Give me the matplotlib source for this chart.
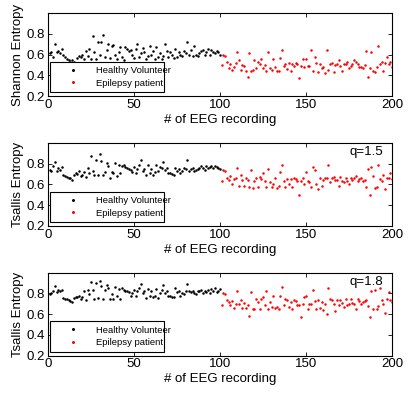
import matplotlib
matplotlib.use("Agg")
import matplotlib.pyplot as plt
import numpy as np

plt.rcParams['font.family'] = ['Liberation Sans', 'DejaVu Sans']

# Shannon entropy
shannon_healthy = [
    0.61, 0.62, 0.58, 0.70, 0.62, 0.63, 0.61, 0.65, 0.60, 0.58,
    0.56, 0.55, 0.53, 0.55, 0.53, 0.51, 0.57, 0.59, 0.58, 0.60,
    0.56, 0.63, 0.59, 0.65, 0.56, 0.78, 0.62, 0.56, 0.72, 0.60,
    0.72, 0.79, 0.58, 0.64, 0.70, 0.57, 0.68, 0.69, 0.60, 0.56,
    0.62, 0.67, 0.58, 0.55, 0.67, 0.65, 0.63, 0.64, 0.60, 0.57,
    0.65, 0.70, 0.58, 0.61, 0.66, 0.62, 0.56, 0.59, 0.68, 0.60,
    0.63, 0.56, 0.67, 0.58, 0.61, 0.56, 0.59, 0.70, 0.63, 0.58,
    0.62, 0.60, 0.57, 0.65, 0.58, 0.62, 0.60, 0.59, 0.63, 0.61,
    0.72, 0.60, 0.64, 0.59, 0.68, 0.60, 0.59, 0.61, 0.63, 0.64,
    0.60, 0.62, 0.65, 0.60, 0.64, 0.62, 0.61, 0.63, 0.62, 0.60]
shannon_epilepsy = [
    0.50, 0.60, 0.59, 0.53, 0.47, 0.51, 0.45, 0.48, 0.52, 0.62,
    0.55, 0.45, 0.50, 0.49, 0.44, 0.38, 0.61, 0.44, 0.45, 0.55,
    0.47, 0.53, 0.51, 0.56, 0.47, 0.50, 0.44, 0.62, 0.47, 0.45,
    0.56, 0.48, 0.44, 0.44, 0.57, 0.64, 0.49, 0.51, 0.46, 0.52,
    0.44, 0.51, 0.49, 0.52, 0.51, 0.37, 0.49, 0.56, 0.48, 0.56,
    0.49, 0.49, 0.64, 0.44, 0.58, 0.52, 0.43, 0.51, 0.47, 0.48,
    0.42, 0.64, 0.45, 0.51, 0.52, 0.43, 0.50, 0.51, 0.55, 0.49,
    0.44, 0.51, 0.51, 0.53, 0.47, 0.49, 0.51, 0.55, 0.53, 0.51,
    0.48, 0.48, 0.47, 0.50, 0.63, 0.38, 0.47, 0.62, 0.44, 0.43,
    0.48, 0.68, 0.51, 0.53, 0.44, 0.52, 0.58, 0.51, 0.53, 0.48]

# Tsallis entropy q=1.5
tsallis15_healthy = [
    0.74, 0.73, 0.78, 0.82, 0.73, 0.76, 0.74, 0.77, 0.69, 0.68,
    0.67, 0.66, 0.66, 0.64, 0.69, 0.71, 0.70, 0.73, 0.68, 0.69,
    0.72, 0.67, 0.76, 0.71, 0.87, 0.73, 0.69, 0.84, 0.69, 0.89,
    0.83, 0.69, 0.72, 0.81, 0.78, 0.66, 0.72, 0.71, 0.81, 0.68,
    0.79, 0.71, 0.78, 0.79, 0.77, 0.76, 0.75, 0.74, 0.72, 0.77,
    0.71, 0.75, 0.79, 0.84, 0.73, 0.75, 0.69, 0.79, 0.71, 0.75,
    0.69, 0.72, 0.79, 0.73, 0.77, 0.76, 0.82, 0.74, 0.76, 0.71,
    0.71, 0.70, 0.69, 0.76, 0.73, 0.75, 0.71, 0.73, 0.76, 0.75,
    0.84, 0.73, 0.75, 0.76, 0.73, 0.74, 0.75, 0.76, 0.78, 0.76,
    0.74, 0.78, 0.76, 0.77, 0.78, 0.76, 0.78, 0.77, 0.76, 0.75]
tsallis15_epilepsy = [
    0.63, 0.74, 0.73, 0.66, 0.64, 0.68, 0.60, 0.65, 0.66, 0.76,
    0.59, 0.69, 0.64, 0.59, 0.66, 0.64, 0.58, 0.74, 0.57, 0.63,
    0.66, 0.58, 0.67, 0.65, 0.71, 0.63, 0.58, 0.75, 0.62, 0.58,
    0.60, 0.66, 0.57, 0.59, 0.72, 0.79, 0.63, 0.58, 0.65, 0.60,
    0.65, 0.58, 0.66, 0.65, 0.63, 0.50, 0.63, 0.66, 0.60, 0.72,
    0.63, 0.62, 0.58, 0.77, 0.74, 0.60, 0.56, 0.66, 0.59, 0.64,
    0.66, 0.66, 0.79, 0.62, 0.66, 0.67, 0.64, 0.64, 0.59, 0.67,
    0.63, 0.62, 0.66, 0.63, 0.60, 0.66, 0.64, 0.66, 0.68, 0.63,
    0.65, 0.66, 0.63, 0.64, 0.58, 0.75, 0.50, 0.77, 0.68, 0.57,
    0.58, 0.79, 0.65, 0.63, 0.69, 0.56, 0.66, 0.66, 0.71, 0.65]

# Tsallis entropy q=1.8
tsallis18_healthy = [
    0.79, 0.80, 0.82, 0.87, 0.81, 0.83, 0.82, 0.83, 0.76, 0.75,
    0.75, 0.74, 0.73, 0.72, 0.76, 0.77, 0.77, 0.78, 0.75, 0.77,
    0.82, 0.74, 0.83, 0.79, 0.91, 0.83, 0.75, 0.90, 0.76, 0.92,
    0.87, 0.75, 0.83, 0.88, 0.85, 0.75, 0.79, 0.75, 0.86, 0.78,
    0.84, 0.75, 0.85, 0.83, 0.82, 0.82, 0.81, 0.78, 0.80, 0.83,
    0.78, 0.82, 0.85, 0.89, 0.80, 0.82, 0.76, 0.84, 0.78, 0.82,
    0.77, 0.78, 0.84, 0.76, 0.80, 0.83, 0.88, 0.80, 0.82, 0.78,
    0.78, 0.77, 0.77, 0.85, 0.81, 0.82, 0.78, 0.80, 0.79, 0.82,
    0.89, 0.82, 0.81, 0.82, 0.80, 0.79, 0.82, 0.82, 0.83, 0.80,
    0.82, 0.81, 0.83, 0.80, 0.84, 0.82, 0.85, 0.81, 0.82, 0.84]
tsallis18_epilepsy = [
    0.69, 0.80, 0.79, 0.74, 0.72, 0.69, 0.73, 0.66, 0.70, 0.82,
    0.70, 0.74, 0.66, 0.71, 0.66, 0.69, 0.58, 0.81, 0.65, 0.65,
    0.75, 0.72, 0.65, 0.75, 0.77, 0.69, 0.82, 0.65, 0.72, 0.67,
    0.78, 0.66, 0.67, 0.65, 0.78, 0.86, 0.69, 0.75, 0.74, 0.67,
    0.72, 0.65, 0.74, 0.73, 0.69, 0.69, 0.57, 0.70, 0.77, 0.78,
    0.65, 0.70, 0.70, 0.83, 0.73, 0.65, 0.74, 0.66, 0.72, 0.64,
    0.70, 0.60, 0.85, 0.75, 0.74, 0.70, 0.63, 0.74, 0.69, 0.74,
    0.71, 0.67, 0.75, 0.69, 0.70, 0.75, 0.71, 0.70, 0.65, 0.75,
    0.73, 0.70, 0.72, 0.73, 0.74, 0.68, 0.57, 0.82, 0.65, 0.83,
    0.65, 0.68, 0.85, 0.74, 0.70, 0.61, 0.75, 0.81, 0.74, 0.72]

panels = [
    ("Shannon Entropy", None, shannon_healthy, shannon_epilepsy),
    ("Tsallis Entropy", "q=1.5", tsallis15_healthy, tsallis15_epilepsy),
    ("Tsallis Entropy", "q=1.8", tsallis18_healthy, tsallis18_epilepsy),
]
x_ticks = [0, 50, 100, 150, 200]
y_ticks = [0.2, 0.4, 0.6, 0.8]

fig = plt.figure(figsize=(4.15, 3.94), dpi=100)
bottoms = [0.7563, 0.4264, 0.0972]

for (ylab, qtxt, healthy, epi), b in zip(panels, bottoms):
    ax = fig.add_axes([0.1157, b, 0.829, 0.2107])
    xh = np.arange(1, len(healthy) + 1)
    xe = np.arange(len(healthy) + 1, len(healthy) + len(epi) + 1)
    ax.plot(xh, healthy, 'o', color='black', ms=1.8, mew=0, label='Healthy Volunteer')
    ax.plot(xe, epi, 'o', color='red', ms=1.8, mew=0, label='Epilepsy patient')
    ax.set_xlim(0, 200)
    ax.set_ylim(0.2, 1.0)
    ax.set_xticks(x_ticks)
    ax.set_yticks(y_ticks)
    ax.set_yticklabels([str(v) for v in y_ticks])
    ax.tick_params(direction='in', top=True, right=True, length=3, width=0.6,
                   labelsize=9.5, pad=2)
    for s in ax.spines.values():
        s.set_linewidth(0.8)
    ax.set_xlabel("# of EEG recording", fontsize=9.5, labelpad=2)
    ax.set_ylabel(ylab, fontsize=9.5, labelpad=2)
    if qtxt:
        ax.text(0.975, 0.89, qtxt, transform=ax.transAxes, ha='right', va='center', fontsize=9.5)
    leg = ax.legend(loc='lower left', bbox_to_anchor=(0.006, 0.05, 0.331, 0.35),
                    mode='expand', fontsize=6.8,
                    handlelength=3.9, handletextpad=0.5, labelspacing=0.4,
                    borderpad=0.45, borderaxespad=0, markerscale=1.2,
                    fancybox=False, framealpha=1, edgecolor='black')
    leg.get_frame().set_linewidth(0.8)

plt.savefig("out.png", dpi=100)
